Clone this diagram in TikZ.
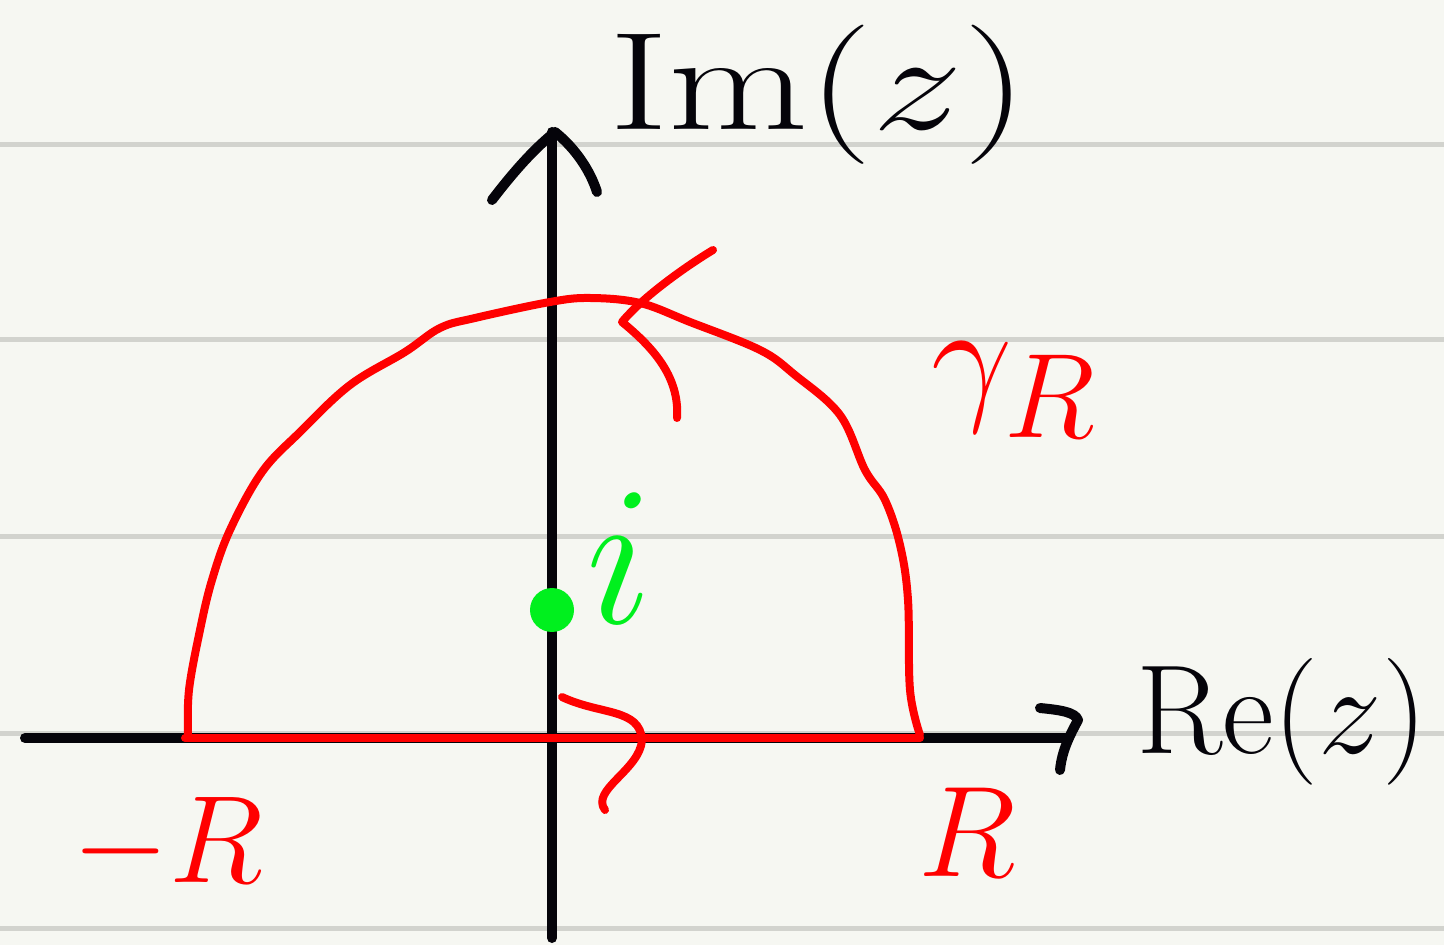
\documentclass[tikz,border=0pt]{standalone}
\usepackage{tikz}
\definecolor{paper}{HTML}{F6F7F2}
\definecolor{rulegray}{HTML}{D2D3CE}
\definecolor{ink}{HTML}{05040A}
\definecolor{penred}{HTML}{FF0000}
\definecolor{pengreen}{HTML}{00F01E}
\begin{document}
\begin{tikzpicture}[x=0.5pt, y=-0.5pt, line cap=round, line join=round,
		axisline/.style={draw=ink, line width=5pt},
		contour/.style={draw=penred, line width=4pt},
		ruleline/.style={draw=rulegray, line width=2.5pt},
		hand/.style={font=\Huge, inner sep=0pt}]
	% 1. 纸面背景与横格线
	\fill[paper] (0,0) rectangle (1444,945);
	\useasboundingbox (0,0) rectangle (1444,945);
	\foreach \y in {145,340,537,733,928}
		\draw[ruleline] (0,\y) -- (1444,\y);
	
	% 2. 坐标轴与手写箭头
	\coordinate (O) at (552,738);
	\coordinate (xL) at (25,738);
	\coordinate (xR) at (1068,738);
	\coordinate (yB) at (552,938);
	\coordinate (yT) at (552,132);
	\draw[axisline] (xL) -- (xR);
	\draw[axisline] (yB) -- (yT);
	\draw[axisline] (492,200) .. controls (515,170) and (535,148) .. (555,132)
		.. controls (575,148) and (590,170) .. (597,192);
	\draw[axisline] (1040,708) .. controls (1060,710) and (1075,712) .. (1078,720)
		.. controls (1070,735) and (1062,750) .. (1060,770);
	\node[hand, anchor=west, text=ink, scale=2.8, xscale=1.3] (ImLabel) at (608,95) {$\mathrm{Im}(z)$};
	\node[hand, anchor=west, text=ink, scale=2.55] (ReLabel) at (1135,722) {$\mathrm{Re}(z)$};
	
	% 3. 半圆周道路 gamma_R 与实轴线段
	\draw[contour] (185,738) -- (920,738);
	\draw[contour] plot[smooth, tension=0.6] coordinates {
		(188,735) (189,690) (200,630) (212,580) (230,530) (262,472) (300,432)
		(350,385) (405,352) (440,328) (475,318) (550,302) (590,298) (640,303)
		(690,322) (760,350) (795,375) (840,415) (865,470) (885,500) (900,545)
		(908,600) (910,690) (920,735)};
	% 方向箭头
	\draw[contour] (713,250) .. controls (680,270) and (640,300) .. (622,322)
		.. controls (650,345) and (680,375) .. (677,418);
	\draw[contour] (562,697) .. controls (600,715) and (640,708) .. (642,740)
		.. controls (640,770) and (590,790) .. (605,810);
	\node[hand, text=penred, scale=2.5] (mRLabel) at (168,845) {$-R$};
	\node[hand, text=penred, scale=2.6] (RLabel) at (967,832) {$R$};
	\node[hand, text=penred, scale=2.9] (gammaLabel) at (1015,390) {$\gamma_R$};
	
	% 4. 极点 i
	\fill[pengreen] (O) ++(0,-128) coordinate (pole) circle (22);
	\node[hand, text=pengreen, scale=4] (iLabel) at (620,558) {$i$};
\end{tikzpicture}
\end{document}
